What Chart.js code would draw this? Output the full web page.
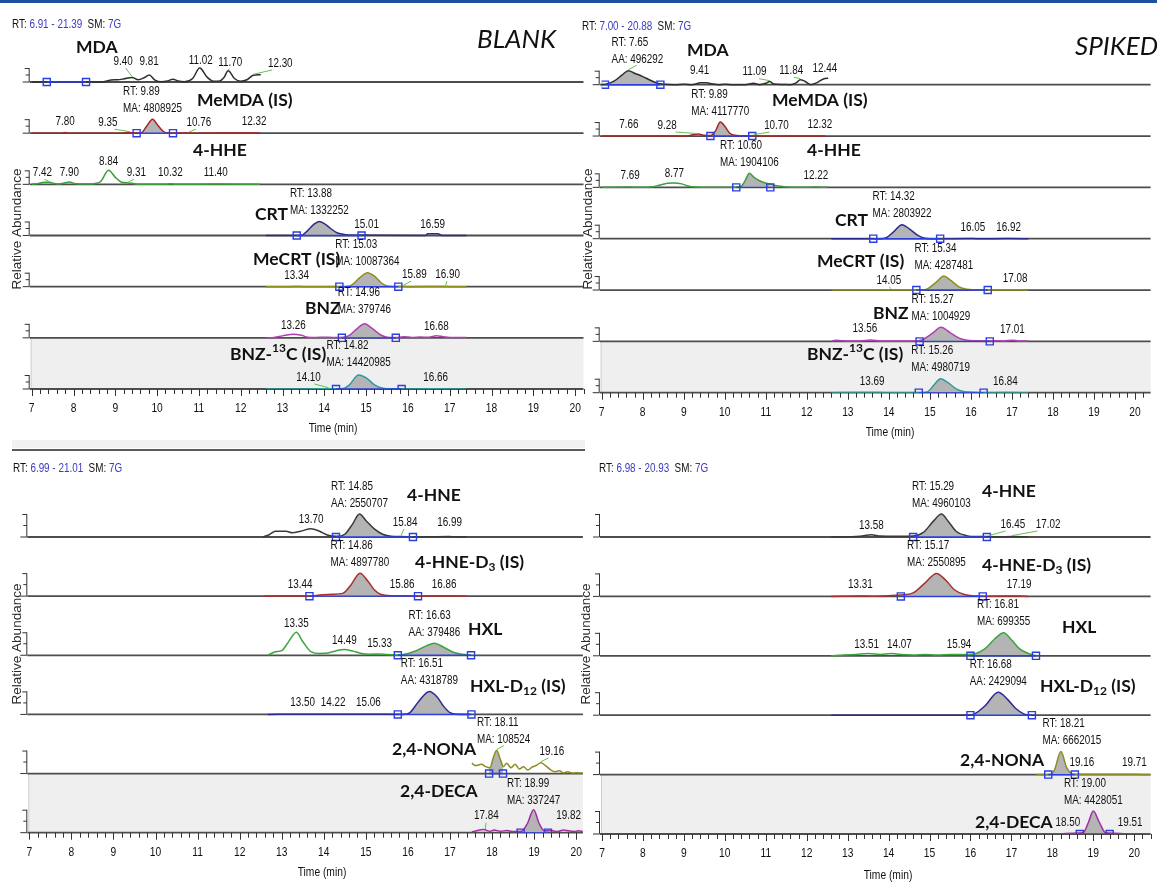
<!DOCTYPE html>
<html>
<head>
<meta charset="utf-8">
<script src="https://cdn.jsdelivr.net/npm/chart.js@4.4.1/dist/chart.umd.min.js"></script>
<style>
  html, body { margin: 0; padding: 0; background: #fff; }
  #wrap { position: relative; width: 1157px; height: 883px; overflow: hidden; background: #fff; }
  #wrap canvas { position: absolute; left: 0; top: 0; }
  .bar { position: absolute; left: 0; top: 0; width: 1157px; height: 3px; background: #1f4f9e; }
  .band { position: absolute; left: 12px; top: 440px; width: 573px; height: 8px; background: #f1f1f1; }
  .rule { position: absolute; left: 12px; top: 449px; width: 573px; height: 2px; background: #5a5a5a; }
</style>
</head>
<body>
<div id="wrap">
  <div class="bar"></div>
  <div class="band"></div>
  <div class="rule"></div>
  <canvas id="c0" width="1157" height="883"></canvas>
  <canvas id="c1" width="1157" height="883"></canvas>
  <canvas id="c2" width="1157" height="883"></canvas>
  <canvas id="c3" width="1157" height="883"></canvas>
</div>
<script>
// ---- Ion chromatograms: [retention time (min), relative abundance (%)] ----

// Blank extract, aldehydes group 1
const blankMDA = [[7.0,0],[8.6,0],[8.75,4],[8.9,14],[9.05,16],[9.2,22],[9.4,32],[9.55,16],[9.7,32],[9.81,50],[9.95,14],[10.1,2],[10.25,8],[10.38,20],[10.5,8],[10.65,2],[10.85,25],[11.02,100],[11.2,33],[11.35,5],[11.5,8],[11.6,32],[11.70,80],[11.85,25],[12.0,5],[12.15,16],[12.30,48],[12.48,52]];
const blankMDAPeaks = [9.40, 9.81, 11.02, 11.70, 12.30];
const blankMDAWindow = [7.36, 8.30];
const blankMeMDA = [[7.0,0],[7.7,0],[7.8,4],[7.9,0],[9.1,0],[9.3,4],[9.45,2],[9.62,3],[9.75,50],[9.89,100],[10.02,55],[10.15,12],[10.25,2],[10.35,0],[10.7,2],[10.8,0],[12.3,1],[12.46,0]];
const blankMeMDAPeaks = [7.80, 9.35, 10.76, 12.32];
const blankMeMDAInt = { rt: 9.89, kind: 'MA', area: 4808925, from: 9.51, to: 10.38 };
const blankHHE = [[7.0,0],[7.15,5],[7.3,14],[7.42,14],[7.6,3],[7.75,8],[7.9,16],[8.05,5],[8.3,3],[8.5,5],[8.65,20],[8.84,100],[9.0,50],[9.15,15],[9.31,10],[9.45,5],[9.6,0],[10.2,0],[10.32,4],[10.45,0],[11.4,2],[12.46,0]];
const blankHHEPeaks = [7.42, 7.90, 8.84, 9.31, 10.32, 11.40];
const blankCRT = [[12.6,0],[13.45,0],[13.6,35],[13.75,80],[13.88,100],[14.0,85],[14.15,50],[14.3,20],[14.5,6],[14.8,2],[15.01,4],[15.15,1],[16.42,0],[16.47,12],[16.72,12],[16.82,0],[17.4,0]];
const blankCRTPeaks = [15.01, 16.59];
const blankCRTInt = { rt: 13.88, kind: 'MA', area: 1332252, from: 13.34, to: 14.89 };
const blankMeCRT = [[12.6,0],[13.2,0],[13.34,2],[13.5,0],[14.5,0],[14.65,10],[14.85,65],[15.03,100],[15.2,75],[15.35,30],[15.5,5],[15.7,0],[15.89,2],[16.0,0],[16.9,2],[17.0,0],[17.4,0]];
const blankMeCRTPeaks = [13.34, 15.89, 16.90];
const blankMeCRTInt = { rt: 15.03, kind: 'MA', area: 10087364, from: 14.36, to: 15.77 };
const blankBNZ = [[12.6,0],[12.8,3],[13.0,14],[13.26,25],[13.45,18],[13.6,5],[13.8,3],[14.0,5],[14.2,3],[14.45,5],[14.6,18],[14.8,70],[14.96,100],[15.15,65],[15.35,20],[15.5,5],[15.7,2],[15.9,8],[16.1,3],[16.3,6],[16.5,4],[16.68,15],[16.85,8],[17.0,3],[17.4,3]];
const blankBNZPeaks = [13.26, 16.68];
const blankBNZInt = { rt: 14.96, kind: 'MA', area: 379746, from: 14.42, to: 15.71 };
const blankBNZ13C = [[12.6,0],[13.5,0],[14.1,2],[14.3,0],[14.45,3],[14.6,30],[14.82,100],[15.0,80],[15.2,30],[15.4,5],[15.6,0],[16.66,1],[17.4,0]];
const blankBNZ13CPeaks = [14.10, 16.66];
const blankBNZ13CInt = { rt: 14.82, kind: 'MA', area: 14420985, from: 14.28, to: 15.85 };

// Spiked extract, aldehydes group 1
const spikedMDA = [[7.0,0],[7.1,3],[7.3,25],[7.5,70],[7.65,100],[7.8,82],[8.0,58],[8.2,30],[8.4,6],[8.6,2],[8.8,0],[9.0,3],[9.2,0],[9.35,10],[9.41,14],[9.55,14],[9.7,5],[9.85,0],[10.0,3],[10.2,0],[10.5,0],[10.7,10],[10.85,0],[11.0,10],[11.09,22],[11.2,5],[11.4,2],[11.6,0],[11.75,15],[11.84,36],[11.95,25],[12.1,0],[12.25,15],[12.44,45],[12.52,46]];
const spikedMDAPeaks = [9.41, 11.09, 11.84, 12.44];
const spikedMDAInt = { rt: 7.65, kind: 'AA', area: 496292, from: 7.08, to: 8.43 };
const spikedMeMDA = [[7.0,0],[7.66,1],[7.8,0],[9.05,0],[9.2,8],[9.35,15],[9.5,5],[9.65,3],[9.78,40],[9.89,100],[10.0,70],[10.12,20],[10.25,5],[10.4,2],[10.6,0],[10.7,2],[10.85,0],[12.32,1],[12.45,0]];
const spikedMeMDAPeaks = [7.66, 9.28, 10.70, 12.32];
const spikedMeMDAInt = { rt: 9.89, kind: 'MA', area: 4117770, from: 9.65, to: 10.67 };
const spikedHHE = [[7.0,0],[7.69,2],[7.9,0],[8.2,2],[8.4,15],[8.6,30],[8.77,32],[8.95,25],[9.1,10],[9.3,2],[9.6,0],[10.2,0],[10.4,8],[10.5,50],[10.60,100],[10.72,70],[10.9,40],[11.1,22],[11.3,10],[11.5,3],[11.8,1],[12.22,2],[12.5,0]];
const spikedHHEPeaks = [7.69, 8.77, 12.22];
const spikedHHEInt = { rt: 10.60, kind: 'MA', area: 1904106, from: 10.28, to: 11.11 };
const spikedCRT = [[12.6,0],[13.8,0],[13.95,10],[14.1,45],[14.32,100],[14.5,70],[14.7,25],[14.85,5],[15.0,0],[16.05,1],[16.2,0],[16.92,1],[17.4,0]];
const spikedCRTPeaks = [16.05, 16.92];
const spikedCRTInt = { rt: 14.32, kind: 'MA', area: 2803922, from: 13.62, to: 15.25 };
const spikedMeCRT = [[12.6,0],[14.0,0],[14.05,2],[14.15,0],[14.8,0],[14.95,10],[15.15,55],[15.34,100],[15.5,70],[15.7,25],[15.9,5],[16.1,1],[16.3,0],[17.08,1],[17.4,0]];
const spikedMeCRTPeaks = [14.05, 17.08];
const spikedMeCRTInt = { rt: 15.34, kind: 'MA', area: 4287481, from: 14.67, to: 16.41 };
const spikedBNZ = [[12.6,0],[12.7,8],[12.85,5],[13.0,3],[13.3,3],[13.56,10],[13.8,3],[14.2,3],[14.6,3],[14.8,10],[15.05,55],[15.27,100],[15.5,60],[15.7,25],[15.9,8],[16.1,4],[16.4,3],[16.6,5],[16.8,3],[17.01,8],[17.15,3],[17.4,2]];
const spikedBNZPeaks = [13.56, 17.01];
const spikedBNZInt = { rt: 15.27, kind: 'MA', area: 1004929, from: 14.75, to: 16.46 };
const spikedBNZ13C = [[12.6,0],[13.69,2],[13.9,0],[14.8,0],[14.95,8],[15.1,55],[15.26,100],[15.45,70],[15.65,25],[15.85,6],[16.1,2],[16.3,0],[16.84,1],[17.4,0]];
const spikedBNZ13CPeaks = [13.69, 16.84];
const spikedBNZ13CInt = { rt: 15.26, kind: 'MA', area: 4980719, from: 14.73, to: 16.31 };

// Blank extract, aldehydes group 2
const blankHNE = [[12.55,0],[12.7,10],[12.85,25],[13.1,25],[13.25,18],[13.45,25],[13.7,36],[13.9,25],[14.1,8],[14.3,3],[14.5,12],[14.68,55],[14.85,100],[15.0,72],[15.2,35],[15.4,12],[15.6,3],[15.84,2],[16.1,0],[16.99,2],[17.1,0],[17.4,0]];
const blankHNEPeaks = [13.70, 15.84, 16.99];
const blankHNEInt = { rt: 14.85, kind: 'AA', area: 2550707, from: 14.29, to: 16.12 };
const blankHNED3 = [[12.56,0],[13.44,1],[13.7,0],[13.9,5],[14.2,8],[14.45,12],[14.65,50],[14.86,100],[15.05,65],[15.2,28],[15.35,8],[15.6,2],[15.86,2],[16.1,0],[16.86,1],[17.4,0]];
const blankHNED3Peaks = [13.44, 15.86, 16.86];
const blankHNED3Int = { rt: 14.86, kind: 'MA', area: 4897780, from: 13.66, to: 16.24 };
const blankHXL = [[12.67,0],[12.85,15],[13.0,20],[13.15,55],[13.35,100],[13.5,60],[13.7,15],[13.9,8],[14.1,10],[14.3,20],[14.49,25],[14.7,18],[14.9,8],[15.1,5],[15.33,6],[15.5,3],[15.75,1],[16.0,8],[16.2,20],[16.45,42],[16.63,52],[16.85,35],[17.1,12],[17.3,4],[17.5,0]];
const blankHXLPeaks = [13.35, 14.49, 15.33];
const blankHXLInt = { rt: 16.63, kind: 'AA', area: 379486, from: 15.76, to: 17.50 };
const blankHXLD12 = [[12.67,0],[13.5,1],[14.22,1],[15.06,1],[15.9,0],[16.05,8],[16.25,55],[16.51,100],[16.7,75],[16.85,35],[17.0,8],[17.2,0],[17.5,0]];
const blankHXLD12Peaks = [13.50, 14.22, 15.06];
const blankHXLD12Int = { rt: 16.51, kind: 'AA', area: 4318789, from: 15.76, to: 17.51 };
const blankNONA = [[17.52,45],[17.6,35],[17.75,40],[17.85,30],[17.95,25],[18.03,70],[18.11,100],[18.2,60],[18.27,30],[18.35,45],[18.45,25],[18.55,40],[18.65,20],[18.75,30],[18.85,15],[18.95,28],[19.05,35],[19.16,47],[19.3,30],[19.4,15],[19.5,8],[19.6,12],[19.7,3],[19.8,8],[19.9,2],[20.0,3],[20.16,2]];
const blankNONAPeaks = [19.16];
const blankNONAInt = { rt: 18.11, kind: 'MA', area: 108524, from: 17.93, to: 18.26 };
const blankDECA = [[17.52,3],[17.65,10],[17.8,14],[17.95,6],[18.05,12],[18.2,6],[18.35,10],[18.5,5],[18.7,6],[18.84,40],[18.99,100],[19.12,40],[19.25,8],[19.4,10],[19.55,5],[19.7,12],[19.82,8],[19.95,5],[20.05,8],[20.16,5]];
const blankDECAPeaks = [17.84, 19.82];
const blankDECAInt = { rt: 18.99, kind: 'MA', area: 337247, from: 18.68, to: 19.33 };

// Spiked extract, aldehydes group 2
const spikedHNE = [[12.6,0],[13.3,3],[13.58,10],[13.8,4],[14.2,3],[14.6,4],[14.85,20],[15.1,70],[15.29,100],[15.45,70],[15.65,25],[15.9,6],[16.2,2],[16.45,2],[16.7,0],[17.02,2],[17.4,0]];
const spikedHNEPeaks = [13.58, 16.45, 17.02];
const spikedHNEInt = { rt: 15.29, kind: 'MA', area: 4960103, from: 14.6, to: 16.4 };
const spikedHNED3 = [[12.6,0],[13.31,2],[13.6,1],[14.0,3],[14.3,6],[14.6,15],[14.9,60],[15.17,100],[15.4,70],[15.6,30],[15.85,8],[16.1,2],[16.4,1],[17.19,2],[17.4,0]];
const spikedHNED3Peaks = [13.31, 17.19];
const spikedHNED3Int = { rt: 15.17, kind: 'MA', area: 2550895, from: 14.3, to: 16.3 };
const spikedHXL = [[12.6,0],[12.9,4],[13.2,6],[13.51,10],[13.8,6],[14.07,10],[14.3,6],[14.6,4],[14.9,6],[15.2,4],[15.5,6],[15.94,6],[16.1,8],[16.35,30],[16.6,75],[16.81,100],[17.0,70],[17.2,30],[17.45,8],[17.6,0]];
const spikedHXLPeaks = [13.51, 14.07, 15.94];
const spikedHXLInt = { rt: 16.81, kind: 'MA', area: 699355, from: 16.0, to: 17.6 };
const spikedHXLD12 = [[12.6,0],[15.9,0],[16.1,6],[16.35,40],[16.68,100],[16.9,70],[17.1,30],[17.3,6],[17.5,0],[17.6,0]];
const spikedHXLD12Peaks = [];
const spikedHXLD12Int = { rt: 16.68, kind: 'AA', area: 2429094, from: 16.0, to: 17.5 };
const spikedNONA = [[17.6,0],[17.95,2],[18.05,20],[18.21,100],[18.35,30],[18.5,3],[18.7,1],[19.16,2],[19.4,1],[19.71,2],[20.0,1],[20.4,0]];
const spikedNONAPeaks = [19.16, 19.71];
const spikedNONAInt = { rt: 18.21, kind: 'MA', area: 6662015, from: 17.9, to: 18.55 };
const spikedDECA = [[17.6,0],[18.2,1],[18.5,3],[18.75,5],[18.88,50],[19.0,100],[19.15,50],[19.3,5],[19.51,3],[19.8,1],[20.4,0]];
const spikedDECAPeaks = [18.50, 19.51];
const spikedDECAInt = { rt: 19.00, kind: 'MA', area: 4428051, from: 18.67, to: 19.4 };

// Time axis tick labels (min)
const timeTicks = [7, 8, 9, 10, 11, 12, 13, 14, 15, 16, 17, 18, 19, 20];

// ---- Panel layout (page pixels) ----
const panels = [
  { canvas: 'c0', range: '6.91 - 21.39', headAt: [12, 24], tag: 'BLANK', tagAt: [477, 40],
    yTitleAt: [17, 229], timeAt: [333, 428], x0: 31.7, x1: 583.5, xMax: 20.2, base0: 82, base1: 389, peakPx: 14,
    rows: [
      { name: 'MDA', pts: blankMDA, peaks: blankMDAPeaks, win: blankMDAWindow, color: '#2e2e2e', at: [76, 47],
        lab: { '9.40': [-9, 21, 1], '9.81': [0, 21], '11.02': [1, 22], '11.70': [2, 20, 1], '12.30': [27, 19, 1] } },
      { name: 'MeMDA (IS)', pts: blankMeMDA, peaks: blankMeMDAPeaks, int: blankMeMDAInt, color: '#a82424', at: [197, 100],
        lab: { '9.35': [-22, 11, 1], '10.76': [10, 11, 1] } },
      { name: '4-HHE', pts: blankHHE, peaks: blankHHEPeaks, color: '#3a9e3a', at: [193, 150],
        lab: { '7.42': [-7, 12, 1], '9.31': [8, 12, 1] } },
      { name: 'CRT', pts: blankCRT, peaks: blankCRTPeaks, int: blankCRTInt, color: '#2c2c8c', at: [255, 214], lab: {} },
      { name: 'MeCRT (IS)', pts: blankMeCRT, peaks: blankMeCRTPeaks, int: blankMeCRTInt, color: '#8f8f1c', at: [253, 259],
        lab: { '15.89': [11, 12.5, 1], '16.90': [2, 12.5, 1] } },
      { name: 'BNZ', pts: blankBNZ, peaks: blankBNZPeaks, int: blankBNZInt, color: '#b23fb2', at: [305, 308], lab: {}, il: [0, 14] },
      { name: 'BNZ-^13^C (IS)', pts: blankBNZ13C, peaks: blankBNZ13CPeaks, int: blankBNZ13CInt, color: '#2c9c9c', at: [230, 354],
        lab: { '14.10': [-20, 12, 1] }, il: [0, 13] }
    ] },
  { canvas: 'c1', range: '7.00 - 20.88', headAt: [582, 26], tag: 'SPIKED', tagAt: [1075, 47],
    yTitleAt: [588, 229], timeAt: [890, 432], x0: 601.7, x1: 1157, xMax: 20.38, base0: 84.7, base1: 392.7, peakPx: 14,
    rows: [
      { name: 'MDA', pts: spikedMDA, peaks: spikedMDAPeaks, int: spikedMDAInt, color: '#2e2e2e', at: [687, 50],
        lab: { '9.41': [-1, 14], '11.09': [-15, 13, 1], '11.84': [-9, 14.5, 1], '12.44': [0, 16.4] }, il: [9, 11.5, 1] },
      { name: 'MeMDA (IS)', pts: spikedMeMDA, peaks: spikedMeMDAPeaks, int: spikedMeMDAInt, color: '#a82424', at: [772, 100],
        lab: { '9.28': [-28, 11, 1], '10.70': [23, 11, 1] } },
      { name: '4-HHE', pts: spikedHHE, peaks: spikedHHEPeaks, int: spikedHHEInt, color: '#3a9e3a', at: [807, 150], lab: {} },
      { name: 'CRT', pts: spikedCRT, peaks: spikedCRTPeaks, int: spikedCRTInt, color: '#2c2c8c', at: [835, 220], lab: {} },
      { name: 'MeCRT (IS)', pts: spikedMeCRT, peaks: spikedMeCRTPeaks, int: spikedMeCRTInt, color: '#8f8f1c', at: [817, 261],
        lab: { '14.05': [-2, 10, 1] } },
      { name: 'BNZ', pts: spikedBNZ, peaks: spikedBNZPeaks, int: spikedBNZInt, color: '#b23fb2', at: [873, 313],
        lab: { '13.56': [-6, 13.4] } },
      { name: 'BNZ-^13^C (IS)', pts: spikedBNZ13C, peaks: spikedBNZ13CPeaks, int: spikedBNZ13CInt, color: '#2c9c9c', at: [807, 354],
        lab: { '13.69': [-4, 11] } }
    ] },
  { canvas: 'c2', range: '6.99 - 21.01', headAt: [13, 468], tag: null,
    yTitleAt: [17, 644], timeAt: [322, 872], x0: 29.3, x1: 582.9, xMax: 20.16, base0: 537, base1: 832.7, peakPx: 23,
    rows: [
      { name: '4-HNE', pts: blankHNE, peaks: blankHNEPeaks, int: blankHNEInt, color: '#3a3a3a', at: [407, 495],
        lab: { '15.84': [4, 15, 1], '16.99': [0, 15] } },
      { name: '4-HNE-D_3_ (IS)', pts: blankHNED3, peaks: blankHNED3Peaks, int: blankHNED3Int, color: '#a83030', at: [415, 562], lab: {} },
      { name: 'HXL', pts: blankHXL, peaks: blankHXLPeaks, int: blankHXLInt, color: '#3aa53a', at: [468, 629], lab: {} },
      { name: 'HXL-D_12_ (IS)', pts: blankHXLD12, peaks: blankHXLD12Peaks, int: blankHXLD12Int, color: '#2c2c95', at: [470, 686], lab: {} },
      { name: '2,4-NONA', pts: blankNONA, peaks: blankNONAPeaks, int: blankNONAInt, color: '#8c8c20', at: [392, 749],
        lab: { '19.16': [11, 22.6, 1] }, il: [7, 11, 1] },
      { name: '2,4-DECA', pts: blankDECA, peaks: blankDECAPeaks, int: blankDECAInt, color: '#a32ea3', at: [400, 791],
        lab: { '17.84': [1, 17, 1], '19.82': [0, 17.7] }, il: [0, 9.5] }
    ] },
  { canvas: 'c3', range: '6.98 - 20.93', headAt: [599, 468], tag: null,
    yTitleAt: [586, 644], timeAt: [888, 875], x0: 602, x1: 1156.8, xMax: 20.4, base0: 537, base1: 834, peakPx: 23,
    rows: [
      { name: '4-HNE', pts: spikedHNE, peaks: spikedHNEPeaks, int: spikedHNEInt, color: '#3a3a3a', at: [982, 491],
        lab: { '16.45': [24, 13, 1], '17.02': [36, 13, 1] } },
      { name: '4-HNE-D_3_ (IS)', pts: spikedHNED3, peaks: spikedHNED3Peaks, int: spikedHNED3Int, color: '#a83030', at: [982, 565], lab: {} },
      { name: 'HXL', pts: spikedHXL, peaks: spikedHXLPeaks, int: spikedHXLInt, color: '#3aa53a', at: [1062, 627],
        lab: { '13.51': [-2], '14.07': [8], '15.94': [-9] } },
      { name: 'HXL-D_12_ (IS)', pts: spikedHXLD12, peaks: spikedHXLD12Peaks, int: spikedHXLD12Int, color: '#2c2c95', at: [1040, 686], lab: {} },
      { name: '2,4-NONA', pts: spikedNONA, peaks: spikedNONAPeaks, int: spikedNONAInt, color: '#8c8c20', at: [960, 760],
        lab: { '19.16': [-18, 12], '19.71': [12, 12] }, il: [11, 11] },
      { name: '2,4-DECA', pts: spikedDECA, peaks: spikedDECAPeaks, int: spikedDECAInt, color: '#a32ea3', at: [975, 822],
        lab: { '18.50': [-5], '19.51': [16] } }
    ] }
];

// ---- Drawing helpers ----
const NARROW = 0.76;           // horizontal squeeze giving a condensed face
const NUM_FONT = '"Liberation Sans", Arial, sans-serif';
const NAME_FONT = 'Lato, "Open Sans", sans-serif';
const INK = '#111';
const HEAD_BLUE = '#3b3bc4';
const INT_BLUE = '#2b3fe0';
const LEADER = '#63c14f';
const LABEL_PX = 13;

function narrowText(ctx, s, x, y, o = {}) {
  ctx.save();
  ctx.font = `${o.weight || 'normal'} ${o.size || LABEL_PX}px ${NUM_FONT}`;
  ctx.fillStyle = o.color || INK;
  ctx.textAlign = o.align || 'center';
  ctx.textBaseline = o.base || 'middle';
  ctx.translate(x, y);
  ctx.scale(NARROW, 1);
  ctx.fillText(s, 0, 0);
  ctx.restore();
}
function narrowWidth(ctx, s, size) {
  ctx.save();
  ctx.font = `normal ${size}px ${NUM_FONT}`;
  const w = ctx.measureText(s).width * NARROW;
  ctx.restore();
  return w;
}
function drawName(ctx, s, x, y) {
  const parts = s.split(/([\^_][^\^_]*[\^_])/).filter(Boolean);
  ctx.save();
  ctx.fillStyle = '#111';
  ctx.textAlign = 'left';
  ctx.textBaseline = 'middle';
  let cx = x;
  for (const part of parts) {
    let t = part, size = 17.5, dy = 0;
    if (part[0] === '^') { t = part.slice(1, -1); size = 12; dy = -5.5; }
    else if (part[0] === '_') { t = part.slice(1, -1); size = 12; dy = 5.5; }
    ctx.font = `bold ${size}px ${NAME_FONT}`;
    ctx.fillText(t, cx, y + dy);
    cx += ctx.measureText(t).width;
  }
  ctx.restore();
}
function valueAt(pts, t) {
  if (t <= pts[0][0]) return pts[0][1];
  for (let i = 1; i < pts.length; i++) {
    if (t <= pts[i][0]) {
      const [t0, v0] = pts[i - 1], [t1, v1] = pts[i];
      return v0 + (v1 - v0) * (t - t0) / (t1 - t0);
    }
  }
  return pts[pts.length - 1][1];
}
function windowPts(pts, a, b) {
  const out = [[a, valueAt(pts, a)]];
  pts.forEach(p => { if (p[0] > a && p[0] < b) out.push(p); });
  out.push([b, valueAt(pts, b)]);
  return out;
}

function decorPlugin(p) {
  const n = p.rows.length;
  return {
    id: 'chromDecor',
    beforeDatasetsDraw(chart) {
      const ctx = chart.ctx, xs = chart.scales.x, ys = chart.scales.y;
      const L = xs.left, R = xs.right;
      const frac = p.frac;
      ctx.save();
      // shaded lane behind the last trace
      const yTop = ys.getPixelForValue(1), yBot = ys.getPixelForValue(0);
      ctx.fillStyle = '#efefef';
      ctx.fillRect(L - 1, yTop, R - L + 1, yBot - yTop);
      ctx.strokeStyle = '#cfcfcf'; ctx.lineWidth = 1;
      ctx.beginPath(); ctx.moveTo(L - 0.5, yTop); ctx.lineTo(L - 0.5, yBot); ctx.stroke();
      // lane baselines and abundance brackets
      p.rows.forEach((r, i) => {
        const base = n - 1 - i;
        const yb = ys.getPixelForValue(base);
        ctx.strokeStyle = '#4d4d4d'; ctx.lineWidth = 1.8;
        ctx.beginPath(); ctx.moveTo(L - 2, yb); ctx.lineTo(R, yb); ctx.stroke();
        const y50 = ys.getPixelForValue(base + frac * 0.5), y100 = ys.getPixelForValue(base + frac);
        ctx.strokeStyle = '#333'; ctx.lineWidth = 1;
        ctx.beginPath();
        ctx.moveTo(L - 2.5, yb); ctx.lineTo(L - 2.5, y100);
        ctx.moveTo(L - 2.5, y100 + 0.5); ctx.lineTo(L - 7, y100 + 0.5);
        ctx.moveTo(L - 2.5, y50); ctx.lineTo(L - 6, y50);
        ctx.moveTo(L - 2.5, yb); ctx.lineTo(L - 9, yb);
        ctx.stroke();
      });
      // time axis ticks every 0.2 min
      ctx.strokeStyle = '#333'; ctx.lineWidth = 1;
      ctx.beginPath();
      for (let k = 35; k / 5 <= p.xMax + 1e-9; k++) {
        const t = k / 5, x = Math.round(xs.getPixelForValue(t)) + 0.5;
        const len = k % 5 === 0 ? 7 : 5;
        ctx.moveTo(x, yBot); ctx.lineTo(x, yBot + len);
      }
      ctx.stroke();
      ctx.restore();
    },
    afterDatasetsDraw(chart) {
      const ctx = chart.ctx, xs = chart.scales.x, ys = chart.scales.y;
      const frac = p.frac;
      ctx.save();
      p.rows.forEach((r, i) => {
        const base = n - 1 - i;
        const yb = ys.getPixelForValue(base);
        // minor peak retention-time labels
        r.peaks.forEach(rt => {
          const key = rt.toFixed(2);
          const o = (r.lab && r.lab[key]) || [];
          const v = valueAt(r.pts, rt);
          const ax = xs.getPixelForValue(rt), ay = ys.getPixelForValue(base + v * frac / 100);
          const h = o[1] != null ? o[1] : Math.max(yb - ay + 9, 11.5);
          const lx = ax + (o[0] || 0), ly = yb - h;
          if (o[2]) {
            ctx.strokeStyle = LEADER; ctx.lineWidth = 1;
            ctx.beginPath(); ctx.moveTo(ax, ay - 1); ctx.lineTo(lx - (o[0] || 0) * 0.3, ly + 7); ctx.stroke();
          }
          narrowText(ctx, key, lx, ly);
        });
        // integrated peak annotation
        if (r.int) {
          const it = r.int, o = r.il || [];
          const v = valueAt(r.pts, it.rt);
          const ax = xs.getPixelForValue(it.rt), ay = ys.getPixelForValue(base + v * frac / 100);
          const l1 = 'RT: ' + it.rt.toFixed(2), l2 = it.kind + ': ' + it.area;
          const w = Math.max(narrowWidth(ctx, l1, LABEL_PX), narrowWidth(ctx, l2, LABEL_PX));
          const left = ax + (o[0] || 0) - w / 2;
          const y2 = ay - (o[1] != null ? o[1] : 11), y1 = y2 - 17;
          if (o[2]) {
            ctx.strokeStyle = LEADER; ctx.lineWidth = 1;
            ctx.beginPath(); ctx.moveTo(ax, ay - 1); ctx.lineTo(ax + (o[0] || 0) * 0.6 + 3, y2 + 6); ctx.stroke();
          }
          narrowText(ctx, l1, left, y1, { align: 'left' });
          narrowText(ctx, l2, left, y2, { align: 'left' });
        }
        drawName(ctx, r.name, r.at[0], r.at[1]);
      });
      // time axis labels
      const yAxis = ys.getPixelForValue(0);
      timeTicks.forEach(t => narrowText(ctx, String(t), xs.getPixelForValue(t), yAxis + 19.5, { size: 13.5 }));
      narrowText(ctx, 'Time (min)', p.timeAt[0], p.timeAt[1], { size: 13.5 });
      // run header
      let hx = p.headAt[0];
      [['RT: ', INK], [p.range, HEAD_BLUE], ['  SM: ', INK], ['7G', HEAD_BLUE]].forEach(([s, c]) => {
        narrowText(ctx, s, hx, p.headAt[1], { color: c, align: 'left' });
        hx += narrowWidth(ctx, s, LABEL_PX);
      });
      // vertical axis title
      ctx.save();
      ctx.translate(p.yTitleAt[0], p.yTitleAt[1]);
      ctx.rotate(-Math.PI / 2);
      ctx.font = `normal 13.5px ${NUM_FONT}`;
      ctx.fillStyle = '#2a2a2a'; ctx.textAlign = 'center'; ctx.textBaseline = 'middle';
      ctx.fillText('Relative Abundance', 0, 0);
      ctx.restore();
      // sample tag
      if (p.tag) {
        ctx.font = `italic 26px ${NAME_FONT}`;
        ctx.fillStyle = '#111'; ctx.textAlign = 'left'; ctx.textBaseline = 'middle';
        ctx.fillText(p.tag, p.tagAt[0], p.tagAt[1]);
      }
      ctx.restore();
    }
  };
}

function buildPanel(p) {
  const n = p.rows.length;
  const spacing = (p.base1 - p.base0) / (n - 1);
  p.frac = p.peakPx / spacing;
  const datasets = [];
  p.rows.forEach((r, i) => {
    const base = n - 1 - i;
    const toXY = ([t, v]) => ({ x: t, y: base + v * p.frac / 100 });
    datasets.push({
      data: r.pts.map(toXY), borderColor: r.color, borderWidth: 1.5, pointRadius: 0,
      fill: false, cubicInterpolationMode: 'monotone', order: 2
    });
    if (r.int) {
      datasets.push({
        data: windowPts(r.pts, r.int.from, r.int.to).map(toXY), borderWidth: 0, borderColor: 'rgba(0,0,0,0)',
        backgroundColor: '#b4b4b4', fill: { value: base }, pointRadius: 0, cubicInterpolationMode: 'monotone', order: 3
      });
    }
    const w = r.int ? [r.int.from, r.int.to] : r.win;
    if (w) {
      datasets.push({
        data: w.map(t => ({ x: t, y: base })), borderColor: INT_BLUE, borderWidth: 1.4, fill: false,
        pointStyle: 'rect', pointRadius: 5, pointBorderColor: INT_BLUE, pointBorderWidth: 1.4,
        pointBackgroundColor: 'rgba(0,0,0,0)', order: 1
      });
    }
  });
  new Chart(document.getElementById(p.canvas), {
    type: 'line',
    data: { datasets },
    options: {
      responsive: false, animation: false, devicePixelRatio: 1,
      layout: { padding: { left: p.x0, right: 1157 - p.x1, top: p.base0 - spacing, bottom: 883 - p.base1 } },
      scales: {
        x: { type: 'linear', min: 7, max: p.xMax, display: false },
        y: { type: 'linear', min: 0, max: n, display: false }
      },
      plugins: { legend: { display: false }, tooltip: { enabled: false } },
      events: []
    },
    plugins: [decorPlugin(p)]
  });
}

panels.forEach(buildPanel);
</script>
</body>
</html>
